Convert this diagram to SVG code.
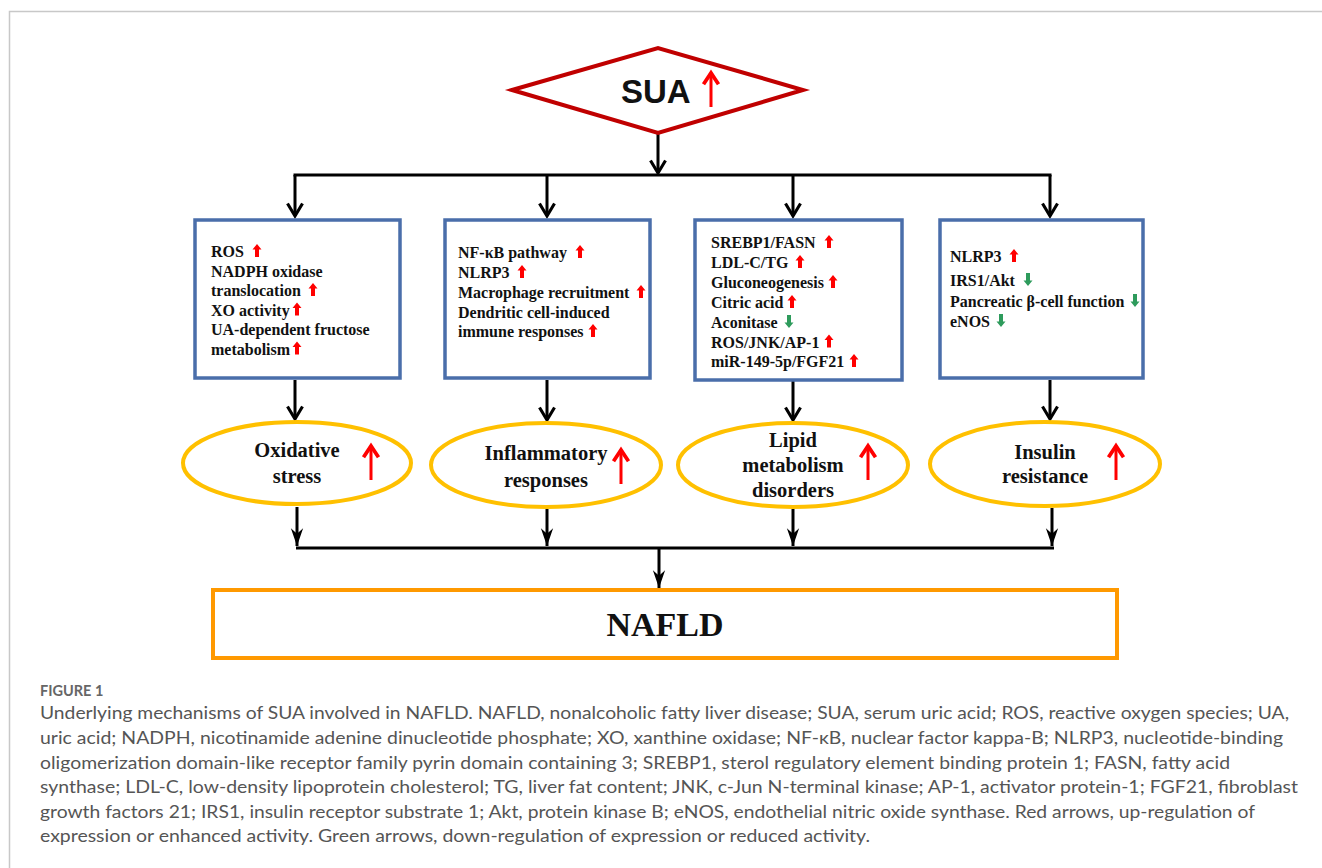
<svg xmlns="http://www.w3.org/2000/svg" width="1322" height="868" viewBox="0 0 1322 868">
<style>
.box{fill:#fff;stroke:#4A6EAA;stroke-width:3.5}
.ell{fill:#fff;stroke:#FFC000;stroke-width:4}
.bt{font-family:"Liberation Serif","Times New Roman",serif;font-weight:bold;font-size:16px;fill:#111}
.et{font-family:"Liberation Serif","Times New Roman",serif;font-weight:bold;font-size:20.5px;fill:#111;text-anchor:middle}
.cap{font-family:Lato,"Open Sans","Liberation Sans",sans-serif;font-size:17px;fill:#555}
.ln{fill:none;stroke:#000;stroke-width:3}
.rl{fill:none;stroke:#FF0000;stroke-width:3}
</style>
<defs>
<marker id="vh" markerUnits="userSpaceOnUse" markerWidth="20" markerHeight="20" viewBox="-12 -8 14 16" refX="0" refY="0" orient="auto">
<path d="M-10,-6 L0,0 L-10,6" fill="none" stroke="#000" stroke-width="2.5"/>
</marker>
<marker id="sh" markerUnits="userSpaceOnUse" markerWidth="20" markerHeight="20" viewBox="-17 -7 18 14" refX="0" refY="0" orient="auto">
<path d="M0,0 L-16,-5.5 L-11,0 L-16,5.5 Z" fill="#000"/>
</marker>
<marker id="rh" markerUnits="userSpaceOnUse" markerWidth="20" markerHeight="20" viewBox="-12 -8 14 16" refX="0" refY="0" orient="auto">
<path d="M-9,-6 L0,0 L-9,6" fill="none" stroke="#FF0000" stroke-width="3"/>
</marker>
<path id="up" d="M0,0 L4.5,5.5 L2,5.5 L2,13 L-2,13 L-2,5.5 L-4.5,5.5 Z" fill="#FF0000"/>
<path id="dn" d="M0,13 L4.5,7.5 L2,7.5 L2,0 L-2,0 L-2,7.5 L-4.5,7.5 Z" fill="#2E9B5C"/>
</defs>
<rect width="1322" height="868" fill="#fff"/>
<path d="M9.5,868 V11.5 H1322" fill="none" stroke="#c8c8c8" stroke-width="1.5"/>

<g id="connectors">
<path class="ln" d="M658,134 V173" marker-end="url(#vh)"/>
<path class="ln" d="M293.5,175 H1051.5"/>
<path class="ln" d="M295,175 V216" marker-end="url(#vh)"/>
<path class="ln" d="M547,175 V216" marker-end="url(#vh)"/>
<path class="ln" d="M793,175 V216" marker-end="url(#vh)"/>
<path class="ln" d="M1050,175 V216" marker-end="url(#vh)"/>
<path class="ln" d="M295,380 V419" marker-end="url(#vh)"/>
<path class="ln" d="M547,380 V420" marker-end="url(#vh)"/>
<path class="ln" d="M793,381 V420" marker-end="url(#vh)"/>
<path class="ln" d="M1050,380 V419" marker-end="url(#vh)"/>
<path class="ln" stroke-width="2.5" d="M297,507 V546" marker-end="url(#sh)"/>
<path class="ln" stroke-width="2.5" d="M547,509 V546" marker-end="url(#sh)"/>
<path class="ln" stroke-width="2.5" d="M793,509 V546" marker-end="url(#sh)"/>
<path class="ln" stroke-width="2.5" d="M1052,508 V546" marker-end="url(#sh)"/>
<path class="ln" d="M296,548 H1054"/>
<path class="ln" stroke-width="2.5" d="M659,548 V588" marker-end="url(#sh)"/>
</g>

<g id="sua">
<polygon points="512,90 658,48 803,90 658,133" fill="#fff" stroke="#C00000" stroke-width="4"/>
<text x="621" y="103" font-family="'Liberation Sans',Arial,sans-serif" font-weight="bold" font-size="33" fill="#111">SUA</text>
<path class="rl" d="M711,107 V73" marker-end="url(#rh)"/>
</g>

<g id="box1">
<rect class="box" x="195" y="220" width="205" height="158"/>
<text class="bt"><tspan x="211" y="257">ROS</tspan><tspan x="211" y="276.5">NADPH oxidase</tspan><tspan x="211" y="296">translocation</tspan><tspan x="211" y="315.5">XO activity</tspan><tspan x="211" y="335">UA-dependent fructose</tspan><tspan x="211" y="354.5">metabolism</tspan></text>
<use href="#up" x="257" y="244"/>
<use href="#up" x="313" y="283"/>
<use href="#up" x="297" y="302.5"/>
<use href="#up" x="297" y="341.5"/>
</g>

<g id="box2">
<rect class="box" x="445" y="220" width="205" height="158"/>
<text class="bt"><tspan x="458" y="258">NF-κB pathway</tspan><tspan x="458" y="278">NLRP3</tspan><tspan x="458" y="298">Macrophage recruitment</tspan><tspan x="458" y="317.5">Dendritic cell-induced</tspan><tspan x="458" y="337">immune responses</tspan></text>
<use href="#up" x="580" y="245"/>
<use href="#up" x="522" y="265"/>
<use href="#up" x="641" y="285"/>
<use href="#up" x="593" y="324"/>
</g>

<g id="box3">
<rect class="box" x="695" y="220" width="207" height="160"/>
<text class="bt"><tspan x="711" y="248">SREBP1/FASN</tspan><tspan x="711" y="268">LDL-C/TG</tspan><tspan x="711" y="288">Gluconeogenesis</tspan><tspan x="711" y="308">Citric acid</tspan><tspan x="711" y="328">Aconitase</tspan><tspan x="711" y="347.5">ROS/JNK/AP-1</tspan><tspan x="711" y="367">miR-149-5p/FGF21</tspan></text>
<use href="#up" x="829" y="235"/>
<use href="#up" x="800" y="255"/>
<use href="#up" x="833" y="275"/>
<use href="#up" x="792" y="295"/>
<use href="#dn" x="789" y="315"/>
<use href="#up" x="829" y="334.5"/>
<use href="#up" x="854" y="354"/>
</g>

<g id="box4">
<rect class="box" x="940" y="220" width="203" height="158"/>
<text class="bt"><tspan x="950" y="262">NLRP3</tspan><tspan x="950" y="286">IRS1/Akt</tspan><tspan x="950" y="307">Pancreatic β-cell function</tspan><tspan x="950" y="327">eNOS</tspan></text>
<use href="#up" x="1014" y="249"/>
<use href="#dn" x="1028" y="273"/>
<use href="#dn" x="1135" y="294"/>
<use href="#dn" x="1001" y="314"/>
</g>

<g id="ell1">
<ellipse class="ell" cx="297" cy="463" rx="114" ry="41"/>
<text class="et"><tspan x="297" y="457">Oxidative</tspan><tspan x="297" y="483">stress</tspan></text>
<path class="rl" d="M371,480 V446" marker-end="url(#rh)"/>
</g>

<g id="ell2">
<ellipse class="ell" cx="546" cy="465" rx="115" ry="42"/>
<text class="et"><tspan x="546" y="460">Inflammatory</tspan><tspan x="546" y="487">responses</tspan></text>
<path class="rl" d="M621,484 V450" marker-end="url(#rh)"/>
</g>

<g id="ell3">
<ellipse class="ell" cx="793" cy="465" rx="115" ry="42"/>
<text class="et"><tspan x="793" y="447">Lipid</tspan><tspan x="793" y="472">metabolism</tspan><tspan x="793" y="497">disorders</tspan></text>
<path class="rl" d="M868,480 V446" marker-end="url(#rh)"/>
</g>

<g id="ell4">
<ellipse class="ell" cx="1045" cy="464" rx="115" ry="42"/>
<text class="et"><tspan x="1045" y="459">Insulin</tspan><tspan x="1045" y="483">resistance</tspan></text>
<path class="rl" d="M1116,480 V446" marker-end="url(#rh)"/>
</g>

<g id="nafld">
<rect x="213" y="590" width="904" height="68" fill="#fff" stroke="#FF9900" stroke-width="4"/>
<text x="665" y="636" text-anchor="middle" font-family="'Liberation Serif','Times New Roman',serif" font-weight="bold" font-size="34" fill="#111">NAFLD</text>
</g>

<g id="caption">
<text x="40" y="696" font-family="Lato,'Open Sans','Liberation Sans',sans-serif" font-size="14.5" font-weight="bold" fill="#666">FIGURE 1</text>
<text class="cap" x="40" y="719" textLength="1249" lengthAdjust="spacingAndGlyphs">Underlying mechanisms of SUA involved in NAFLD. NAFLD, nonalcoholic fatty liver disease; SUA, serum uric acid; ROS, reactive oxygen species; UA,</text>
<text class="cap" x="40" y="744" textLength="1243" lengthAdjust="spacingAndGlyphs">uric acid; NADPH, nicotinamide adenine dinucleotide phosphate; XO, xanthine oxidase; NF-κB, nuclear factor kappa-B; NLRP3, nucleotide-binding</text>
<text class="cap" x="40" y="769" textLength="1190" lengthAdjust="spacingAndGlyphs">oligomerization domain-like receptor family pyrin domain containing 3; SREBP1, sterol regulatory element binding protein 1; FASN, fatty acid</text>
<text class="cap" x="40" y="793" textLength="1258" lengthAdjust="spacingAndGlyphs">synthase; LDL-C, low-density lipoprotein cholesterol; TG, liver fat content; JNK, c-Jun N-terminal kinase; AP-1, activator protein-1; FGF21, fibroblast</text>
<text class="cap" x="40" y="818" textLength="1215" lengthAdjust="spacingAndGlyphs">growth factors 21; IRS1, insulin receptor substrate 1; Akt, protein kinase B; eNOS, endothelial nitric oxide synthase. Red arrows, up-regulation of</text>
<text class="cap" x="40" y="842" textLength="830" lengthAdjust="spacingAndGlyphs">expression or enhanced activity. Green arrows, down-regulation of expression or reduced activity.</text>
</g>
</svg>
